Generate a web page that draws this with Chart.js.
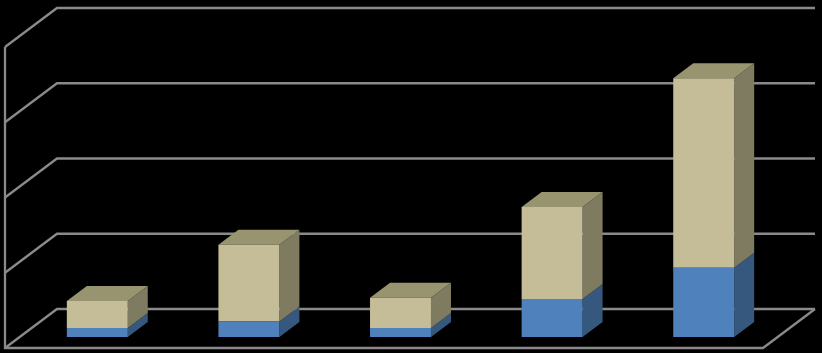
<!DOCTYPE html>
<html>
<head>
<meta charset="utf-8">
<style>
html,body{margin:0;padding:0;background:#000;overflow:hidden}
#wrap{position:relative;width:822px;height:353px}
canvas{display:block}
</style>
<script src="https://cdn.jsdelivr.net/npm/chart.js@4"></script>
</head>
<body>
<div id="wrap"><canvas id="c" width="822" height="353"></canvas></div>
<script>
const categories = ["1", "2", "3", "4", "5"];
const blueValues = [0.6, 1.03, 0.6, 2.53, 4.6];
const tanValues = [1.8, 5.1, 2.0, 6.1, 12.6];
const yTicks = [0, 5, 10, 15, 20];

const depth = {barX: 20, barY: 15, frontX: 16.5, frontY: 11, backX: 35.5, backY: 28};
const blueStyle = {front: "#4f81bd", side: "#36587f"};
const tanStyle = {front: "#c4bd97", side: "#7e7b61", top: "#98946f"};
const gridColor = "#8a8a8a";

function poly(ctx, pts, fill) {
  ctx.beginPath();
  pts.forEach((p, i) => i ? ctx.lineTo(p[0], p[1]) : ctx.moveTo(p[0], p[1]));
  ctx.closePath();
  ctx.fillStyle = fill;
  ctx.fill();
}

const box3d = {
  id: "box3d",
  beforeDatasetsDraw(chart) {
    const ctx = chart.ctx, area = chart.chartArea, y = chart.scales.y;
    const fl = area.left - depth.frontX, fr = area.right - depth.frontX;
    const bl = area.left + depth.backX, br = area.right + depth.backX;
    ctx.save();
    ctx.strokeStyle = gridColor;
    ctx.lineWidth = 2.3;
    ctx.lineJoin = "miter";
    yTicks.forEach(t => {
      const p = y.getPixelForValue(t);
      ctx.beginPath();
      ctx.moveTo(fl, p + depth.frontY);
      ctx.lineTo(bl, p - depth.backY);
      ctx.lineTo(br, p - depth.backY);
      ctx.stroke();
    });
    const p0 = y.getPixelForValue(yTicks[0]);
    const pTop = y.getPixelForValue(yTicks[yTicks.length - 1]);
    ctx.beginPath();
    ctx.moveTo(fl, pTop + depth.frontY);
    ctx.lineTo(fl, p0 + depth.frontY);
    ctx.lineTo(fr, p0 + depth.frontY);
    ctx.lineTo(br, p0 - depth.backY);
    ctx.stroke();

    chart.data.datasets.forEach((ds, di) => {
      const style = di === 0 ? blueStyle : tanStyle;
      chart.getDatasetMeta(di).data.forEach(bar => {
        const right = bar.x + bar.width / 2, left = bar.x - bar.width / 2;
        const dx = depth.barX, dy = depth.barY;
        poly(ctx, [[right, bar.base], [right + dx, bar.base - dy], [right + dx, bar.y - dy], [right, bar.y]], style.side);
        if (style.top) {
          poly(ctx, [[left, bar.y], [left + dx, bar.y - dy], [right + dx, bar.y - dy], [right, bar.y]], style.top);
        }
      });
    });
    ctx.restore();
  }
};

new Chart(document.getElementById("c"), {
  type: "bar",
  data: {
    labels: categories,
    datasets: [
      {data: blueValues, backgroundColor: blueStyle.front, borderWidth: 0},
      {data: tanValues, backgroundColor: tanStyle.front, borderWidth: 0}
    ]
  },
  options: {
    responsive: false,
    animation: false,
    layout: {padding: {left: 21.5, right: 42.5, top: 36, bottom: 16}},
    plugins: {legend: {display: false}, tooltip: {enabled: false}, title: {display: false}},
    datasets: {bar: {categoryPercentage: 1, barPercentage: 0.402}},
    scales: {
      x: {display: false, stacked: true},
      y: {display: false, stacked: true, min: 0, max: 20}
    }
  },
  plugins: [box3d]
});
</script>
</body>
</html>
